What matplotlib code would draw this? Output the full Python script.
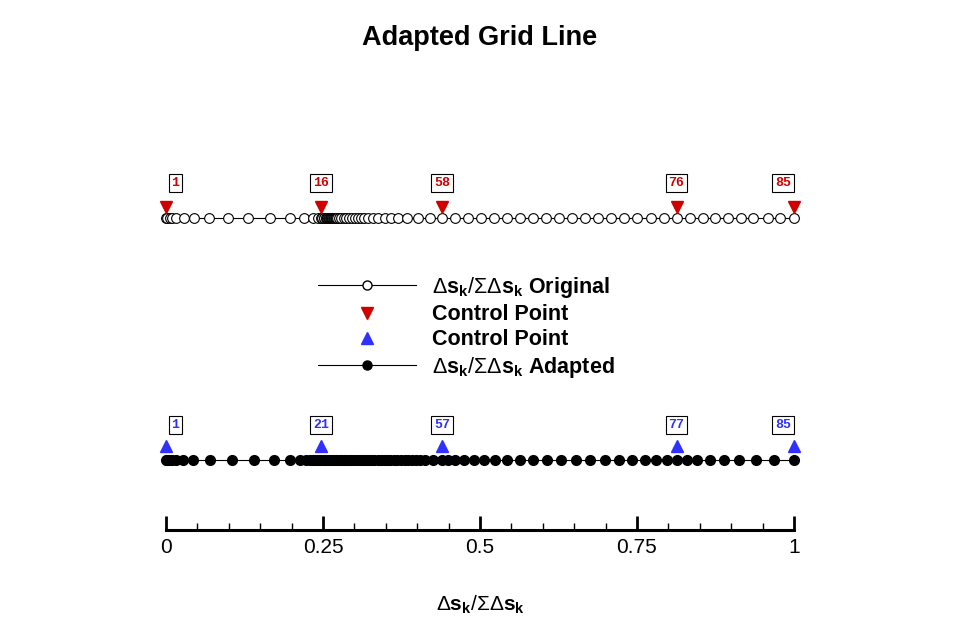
import numpy as np
import matplotlib.pyplot as plt
from matplotlib.lines import Line2D

plt.rcParams['font.family'] = ['Liberation Sans', 'DejaVu Sans']
plt.rcParams['mathtext.fontset'] = 'custom'
plt.rcParams['mathtext.rm'] = 'Liberation Sans'
plt.rcParams['mathtext.bf'] = 'Liberation Sans:bold'
plt.rcParams['mathtext.it'] = 'Liberation Sans:italic'

# normalised arc length of the original grid points (85 points)
orig_s = [0.000, 0.002, 0.006, 0.010, 0.016, 0.029, 0.045, 0.068, 0.099, 0.131,
          0.166, 0.197, 0.220, 0.234, 0.242, 0.247,
          0.249, 0.251, 0.252, 0.254, 0.255, 0.256, 0.257, 0.258, 0.259, 0.260,
          0.261, 0.262, 0.263, 0.264, 0.265, 0.266, 0.267, 0.268, 0.269, 0.270,
          0.271, 0.273,
          0.275, 0.279, 0.283, 0.287, 0.291, 0.296, 0.301, 0.306, 0.311, 0.316,
          0.322, 0.329, 0.338, 0.349, 0.358, 0.369, 0.384, 0.401, 0.420, 0.440,
          0.460, 0.481, 0.502, 0.522, 0.543, 0.564, 0.584, 0.605, 0.626, 0.646,
          0.667, 0.688, 0.709, 0.729, 0.750, 0.772, 0.793, 0.813, 0.834, 0.855,
          0.874, 0.895, 0.916, 0.935, 0.958, 0.978, 1.000]

# normalised arc length of the adapted grid points (85 points)
adapt_s = [0.000, 0.002, 0.005, 0.010, 0.016, 0.027, 0.043, 0.070, 0.105, 0.140,
           0.172, 0.197, 0.213, 0.223, 0.229, 0.234, 0.237, 0.240, 0.242, 0.245,
           0.247,
           0.251, 0.255, 0.259, 0.263, 0.267, 0.271, 0.275, 0.279, 0.283, 0.287,
           0.291, 0.295, 0.300, 0.304, 0.309, 0.313, 0.318, 0.322, 0.327, 0.332,
           0.337, 0.342, 0.347, 0.352, 0.357, 0.363, 0.368, 0.374, 0.380, 0.386,
           0.392, 0.398, 0.404,
           0.412, 0.425, 0.440,
           0.449, 0.460, 0.475, 0.490, 0.506, 0.524, 0.543, 0.564, 0.584, 0.607,
           0.629, 0.653, 0.675, 0.699, 0.721, 0.742, 0.763, 0.780, 0.798, 0.813,
           0.830, 0.846, 0.866, 0.889, 0.912, 0.939, 0.968, 1.000]

orig_ctrl = [1, 16, 58, 76, 85]
adapt_ctrl = [1, 21, 57, 77, 85]

xticks = [0, 0.25, 0.5, 0.75, 1]
xtick_labels = ['0', '0.25', '0.5', '0.75', '1']

red = '#d00000'
blue = '#3030ff'
y_top, y_bot = 0.78, 0.175

fig = plt.figure(figsize=(9.7, 6.28), dpi=100)
ax = fig.add_axes([166 / 970, 1 - 530 / 628, 628 / 970, 400 / 628])
ax.set_xlim(0, 1)
ax.set_ylim(0, 1)

ax.plot(orig_s, [y_top] * len(orig_s), '-o', color='black', lw=0.8,
        ms=7, mfc='white', mec='black', mew=0.8, clip_on=False)
ax.plot(adapt_s, [y_bot] * len(adapt_s), '-o', color='black', lw=0.8,
        ms=7, mfc='black', mec='black', clip_on=False)

# control points with their index labels
def mark_ctrl(s, idx, y, marker, col, dy_tri, dy_box):
    xs = [s[i - 1] for i in idx]
    ax.plot(xs, [y + dy_tri] * len(xs), ls='none', marker=marker, color=col,
            ms=8, clip_on=False)
    for k, (x, i) in enumerate(zip(xs, idx)):
        if k == 0:
            ha, off = 'left', 4
        elif k == len(xs) - 1:
            ha, off = 'right', -2
        else:
            ha, off = 'center', 0
        ax.annotate(str(i), (x, y + dy_box), xytext=(off, 0),
                    textcoords='offset points', ha=ha, va='center',
                    fontsize=9.5, fontweight='bold', family='Liberation Mono',
                    color=col, annotation_clip=False,
                    bbox=dict(boxstyle='square,pad=0.22', fc='white',
                              ec='black', lw=0.8))

mark_ctrl(orig_s, orig_ctrl, y_top, 'v', red, 0.0275, 0.0875)
mark_ctrl(adapt_s, adapt_ctrl, y_bot, '^', blue, 0.035, 0.0875)

for sp in ['left', 'right', 'top']:
    ax.spines[sp].set_visible(False)
ax.spines['bottom'].set_linewidth(2.2)
ax.set_yticks([])
ax.set_xticks(xticks)
ax.set_xticklabels(xtick_labels, fontsize=15)
ax.set_xticks(np.arange(0.05, 1.0, 0.05), minor=True)
ax.tick_params(axis='x', which='major', direction='in', length=10, width=2,
               pad=6)
ax.tick_params(axis='x', which='minor', direction='in', length=5, width=1)
ax.set_xlabel(r'$\Delta\mathbf{s}_{\mathbf{k}}/\Sigma\Delta\mathbf{s}_{\mathbf{k}}$',
              fontsize=15, labelpad=26)

fig.text(480 / 970, 1 - 38 / 628, 'Adapted Grid Line', ha='center',
         va='center', fontsize=19.5, fontweight='bold')

handles = [
    Line2D([], [], color='black', lw=0.8, marker='o', ms=6.5, mfc='white',
           mec='black'),
    Line2D([], [], ls='none', marker='v', color=red, ms=8),
    Line2D([], [], ls='none', marker='^', color=blue, ms=8),
    Line2D([], [], color='black', lw=0.8, marker='o', ms=6.5, mfc='black'),
]
labels = [
    r'$\Delta\mathbf{s}_{\mathbf{k}}/\Sigma\Delta\mathbf{s}_{\mathbf{k}}$ Original',
    'Control Point',
    'Control Point',
    r'$\Delta\mathbf{s}_{\mathbf{k}}/\Sigma\Delta\mathbf{s}_{\mathbf{k}}$ Adapted',
]
fig.legend(handles, labels, loc='upper left',
           bbox_to_anchor=(318 / 970, 1 - 275 / 628), frameon=False,
           prop={'weight': 'bold', 'size': 15.5}, handlelength=4.55,
           handletextpad=0.75, borderpad=0, borderaxespad=0, labelspacing=0.195)

fig.savefig('out.png', dpi=100)
